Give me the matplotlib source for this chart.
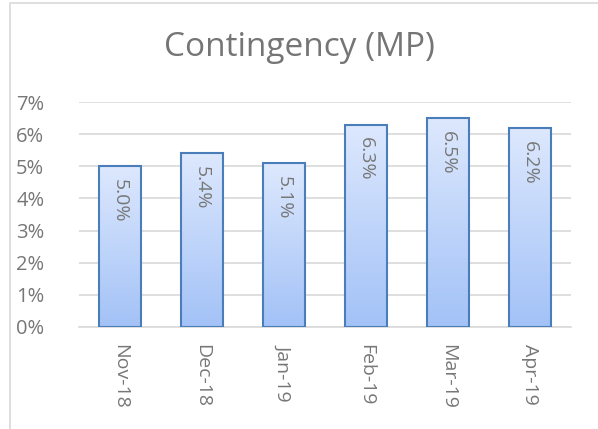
import numpy as np
import matplotlib
matplotlib.use("Agg")
import matplotlib.pyplot as plt
from matplotlib.colors import LinearSegmentedColormap
from matplotlib.patches import Rectangle

months = ["Nov-18", "Dec-18", "Jan-19", "Feb-19", "Mar-19", "Apr-19"]
values = [5.0, 5.4, 5.1, 6.3, 6.5, 6.2]
yticks = [0, 1, 2, 3, 4, 5, 6, 7]

plt.rcParams["font.family"] = ["Open Sans", "DejaVu Sans"]
TXT = "#777777"

fig = plt.figure(figsize=(5.98, 4.29), dpi=100)
ax = fig.add_axes([79 / 598, 1 - 327 / 429, 492 / 598, 225 / 429])

# chart border (runs off the right and bottom edges)
fig.patches.append(Rectangle((10 / 598, -0.05), 1.0, 1.05 - 3 / 429,
                             transform=fig.transFigure, fill=False,
                             edgecolor="#d9d9d9", linewidth=1.2))

cmap = LinearSegmentedColormap.from_list("bar", ["#a3c2f7", "#dde8fd"])
grad = np.linspace(0, 1, 256).reshape(-1, 1)

x = np.arange(len(months))
bars = ax.bar(x, values, width=0.51, facecolor="none", edgecolor="#4a7ebb",
              linewidth=1.5, zorder=3)
for b, v in zip(bars, values):
    im = ax.imshow(grad, cmap=cmap, origin="lower", aspect="auto",
                   extent=[b.get_x(), b.get_x() + b.get_width(), 0, v], zorder=2)
    im.set_clip_path(b)
    ax.text(b.get_x() + b.get_width() / 2, v - 0.4, f"{v:.1f}%", rotation=270,
            ha="center", va="top", fontsize=14, color=TXT, zorder=4)

ax.set_xlim(-0.5, len(months) - 0.5)
ax.set_ylim(0, 7)
ax.set_yticks(yticks)
ax.set_yticklabels([f"{t}%" for t in yticks])
ax.set_xticks(x)
ax.set_xticklabels(months, rotation=270, va="top", ha="center")
ax.tick_params(length=0, labelsize=14, labelcolor=TXT)
ax.tick_params(axis="y", labelsize=14.5)
ax.tick_params(axis="x", pad=12)
ax.tick_params(axis="y", pad=25)
ax.grid(axis="y", color="#d9d9d9", linewidth=1.2, zorder=0)
ax.set_axisbelow(True)
for s in ["top", "right", "left"]:
    ax.spines[s].set_visible(False)
ax.spines["bottom"].set_color("#d9d9d9")
ax.spines["bottom"].set_linewidth(1.2)

fig.text(0.5, 1 - 48 / 429, "Contingency (MP)", ha="center", va="center",
         fontsize=24, color="#757575")

fig.savefig("out.png", dpi=100)
